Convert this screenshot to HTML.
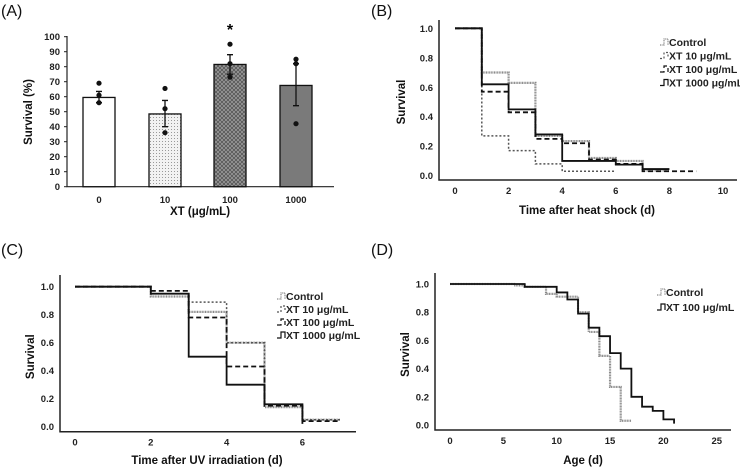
<!DOCTYPE html>
<html><head><meta charset="utf-8"><style>
html,body{margin:0;padding:0;background:#fff}
svg{display:block;font-family:"Liberation Sans",Arial,sans-serif}
.tk{font-size:9.5px;font-weight:bold;fill:#222}
.ti{font-size:11.5px;font-weight:bold;fill:#111}
.pl{font-size:16px;fill:#111}
.lg{font-size:10.5px;font-weight:bold;fill:#222}
</style></head><body>
<svg id="fig" width="740" height="467" viewBox="0 0 740 467">
<defs>
<pattern id="dots" width="3" height="3" patternUnits="userSpaceOnUse"><rect width="3" height="3" fill="#f2f2f2"/><rect width="1" height="1" fill="#999"/></pattern>
<pattern id="hatch" width="4" height="4" patternUnits="userSpaceOnUse"><rect width="4" height="4" fill="#9a9a9a"/><path d="M0 4L4 0M0 0L4 4" stroke="#555" stroke-width="0.8"/></pattern>
</defs>
<text class="pl" x="1" y="16">(A)</text>
<text class="pl" x="371" y="16">(B)</text>
<text class="pl" x="1" y="255">(C)</text>
<text class="pl" x="371" y="255">(D)</text>
<g id="gA"></g>
<g id="gB"></g>
<g id="gC"></g>
<g id="gD"></g>
</svg>
<script>
// Panel A data
const aCats = ["0","10","100","1000"];
const aMeans = [59.5,48.5,81.5,67.5];
const aErrHi = [63.5,57.5,88,82];
const aErrLo = [56,40,75,54];
const aPoints = [[69,61,56],[65.5,52,36],[95,82,73],[85,82,42]];
const aTicks = [0,10,20,30,40,50,60,70,80,90,100];
// Panel B data
const bCtrlT=[0,1,2,3,4,5,6,7], bCtrlS=[1,0.70,0.63,0.27,0.235,0.12,0.10,0.035], bCtrlEnd=8;
const b10T=[0,1,2,3,4], b10S=[1,0.27,0.17,0.08,0.03], b10End=6;
const b100T=[0,1,2,3,4,5,6,7], b100S=[1,0.57,0.43,0.25,0.22,0.11,0.08,0.03], b100End=9;
const b1000T=[0,1,2,3,4,6,7], b1000S=[1,0.62,0.45,0.28,0.10,0.075,0.045], b1000End=8;
const bXTicks=[0,2,4,6,8,10];
// Panel C data
const cCtrlT=[0,2,3,4,5,6], cCtrlS=[1,0.93,0.82,0.60,0.14,0.05], cCtrlEnd=7;
const c10T=[0,2,3,4,5,6], c10S=[1,0.95,0.89,0.60,0.16,0.05], c10End=7;
const c100T=[0,2,3,4,5,6], c100S=[1,0.97,0.78,0.43,0.15,0.04], c100End=7;
const c1000T=[0,2,3,4,5,6], c1000S=[1,0.95,0.50,0.30,0.16,0.02], c1000End=6;
const cXTicks=[0,2,4,6];
// Panel D data
const dCtrlT=[0,6,7,9,10,12,13,14,15,16], dCtrlS=[1,0.99,0.98,0.93,0.91,0.80,0.66,0.49,0.27,0.03], dCtrlEnd=17;
const d100T=[0,7,10,11,12,13,14,15,16,17,18,19,20,21], d100S=[1,0.98,0.94,0.89,0.79,0.69,0.63,0.51,0.40,0.20,0.13,0.10,0.04,0.01], d100End=21;
const dXTicks=[0,5,10,15,20,25];
const yTicks=[0,0.2,0.4,0.6,0.8,1.0];

const NS="http://www.w3.org/2000/svg";
function mk(parent,tag,attrs,text){const e=document.createElementNS(NS,tag);for(const k in attrs)e.setAttribute(k,attrs[k]);if(text!==undefined)e.textContent=text;parent.appendChild(e);return e;}

// ---- Panel A ----
(function(){
const g=document.getElementById('gA');
const y=v=>186.7-v*1.5, xc=[99,165,230,296], bw=32;
const fills=["#fff","url(#dots)","url(#hatch)","#7a7a7a"];
let ax=mk(g,'path',{d:'M67 36V186.7H334',fill:'none',stroke:'#222','stroke-width':1.2});

aTicks.forEach(t=>{let e=mk(g,'text',{class:'tk',x:60,y:y(t)+3.5,'text-anchor':'end'},t);

mk(g,'line',{x1:64,x2:67,y1:y(t),y2:y(t),stroke:'#222'});});
aCats.forEach((c,i)=>{
let r=mk(g,'rect',{x:xc[i]-bw/2,y:y(aMeans[i]),width:bw,height:y(0)-y(aMeans[i]),fill:fills[i],stroke:'#111','stroke-width':1.3});

let e=mk(g,'path',{d:`M${xc[i]} ${y(aErrLo[i])}V${y(aErrHi[i])}M${xc[i]-3} ${y(aErrHi[i])}H${xc[i]+3}M${xc[i]-3} ${y(aErrLo[i])}H${xc[i]+3}`,stroke:'#111','stroke-width':1.3,fill:'none'});

aPoints[i].forEach(p=>{let d=mk(g,'circle',{cx:xc[i],cy:y(p),r:2.6,fill:'#111'});
});
let l=mk(g,'text',{class:'tk',x:xc[i],y:203,'text-anchor':'middle'},c);

});
let s=mk(g,'text',{x:230,y:35,'text-anchor':'middle','font-size':'16px','font-weight':'bold'},'*');

let xt=mk(g,'text',{class:'ti',x:200,y:215,'text-anchor':'middle'},'XT (μg/mL)');

let yt=mk(g,'text',{class:'ti',x:0,y:0,'text-anchor':'middle',transform:'translate(32,112) rotate(-90)'},'Survival (%)');

})();

const styles={
 ctrl:{stroke:'#8a8a8a','stroke-width':2.2,'stroke-dasharray':'1 0.6'},
 x10:{stroke:'#555','stroke-width':1.5,'stroke-dasharray':'2 2'},
 x100:{stroke:'#111','stroke-width':1.8,'stroke-dasharray':'5 3'},
 x1000:{stroke:'#111','stroke-width':1.8}
};
function kmPanel(g,cfg){
 const X=v=>cfg.x0+v*cfg.xs, Y=v=>cfg.y0-v*(cfg.y0-cfg.y1);
 let ax=mk(g,'path',{d:`M${cfg.axX} ${cfg.axTop}V${cfg.axB}H${cfg.axR}`,fill:'none',stroke:'#222','stroke-width':1.5});
 
 yTicks.forEach(t=>{let e=mk(g,'text',{class:'tk',x:cfg.axX-6,y:Y(t)+3.5,'text-anchor':'end'},t.toFixed(1));
 });
 cfg.xt.forEach(t=>{let e=mk(g,'text',{class:'tk',x:X(t),y:cfg.axB+14,'text-anchor':'middle'},t);
 });
 cfg.series.forEach(s=>{
  let d=`M${X(s.t[0])} ${Y(s.s[0])}`;
  for(let i=1;i<s.t.length;i++){d+=`H${X(s.t[i])}V${Y(s.s[i])}`;}
  d+=`H${X(s.end)}`;
  if(s.drop)d+=`V${Y(s.drop)}`;
  const a=Object.assign({d:d,fill:'none'},styles[s.st]);
  let p=mk(g,'path',a);
 });
 cfg.series.forEach((s,i)=>{
  const ly=cfg.ly+i*cfg.ld;
  const a=Object.assign({d:`M${cfg.lx} ${ly+2}h4v-6h4v6`,fill:'none'},styles[s.st]);a['stroke-width']=1.2;
  mk(g,'path',a);
  let t=mk(g,'text',{class:'lg',x:cfg.lx+9,y:ly+3},s.label);
  
 });
 let xt=mk(g,'text',{class:'ti',x:cfg.tx,y:cfg.ty,'text-anchor':'middle'},cfg.xtitle);
 
 let yt=mk(g,'text',{class:'ti',x:0,y:0,'text-anchor':'middle',transform:`translate(${cfg.yx},${(cfg.y0+cfg.y1)/2}) rotate(-90)`},'Survival');
 
}
kmPanel(document.getElementById('gB'),{x0:455,xs:26.8,y0:175.7,y1:28.3,axX:439,axTop:20,axB:180,axR:737,xt:bXTicks,
 lx:660,ly:43,ld:13.5,tx:587,ty:214,yx:405,xtitle:'Time after heat shock (d)',
 series:[{t:bCtrlT,s:bCtrlS,end:bCtrlEnd,st:'ctrl',label:'Control',name:'control-curve'},
 {t:b10T,s:b10S,end:b10End,st:'x10',label:'XT 10 μg/mL',name:'xt10-curve'},
 {t:b100T,s:b100S,end:b100End,st:'x100',label:'XT 100 μg/mL',name:'xt100-curve'},
 {t:b1000T,s:b1000S,end:b1000End,st:'x1000',label:'XT 1000 μg/mL',name:'xt1000-curve'}]});
kmPanel(document.getElementById('gC'),{x0:75,xs:37.9,y0:426.7,y1:286.7,axX:60,axTop:275,axB:431.7,axR:356,xt:cXTicks,
 lx:277,ly:297,ld:13,tx:207,ty:464,yx:34,xtitle:'Time after UV irradiation (d)',
 series:[{t:cCtrlT,s:cCtrlS,end:cCtrlEnd,st:'ctrl',label:'Control',name:'control-curve'},
 {t:c10T,s:c10S,end:c10End,st:'x10',label:'XT 10 μg/mL',name:'xt10-curve'},
 {t:c100T,s:c100S,end:c100End,st:'x100',label:'XT 100 μg/mL',name:'xt100-curve'},
 {t:c1000T,s:c1000S,end:c1000End,st:'x1000',label:'XT 1000 μg/mL',name:'xt1000-curve'}]});
kmPanel(document.getElementById('gD'),{x0:450,xs:10.67,y0:425,y1:284,axX:435,axTop:273,axB:430,axR:731,xt:dXTicks,
 lx:657,ly:293,ld:15,tx:583,ty:464,yx:409,xtitle:'Age (d)',
 series:[{t:dCtrlT,s:dCtrlS,end:dCtrlEnd,st:'ctrl',label:'Control',name:'control-curve'},
 {t:d100T,s:d100S,end:d100End,st:'x1000',label:'XT 100 μg/mL',name:'xt100-curve'}]});
</script>
</body></html>
